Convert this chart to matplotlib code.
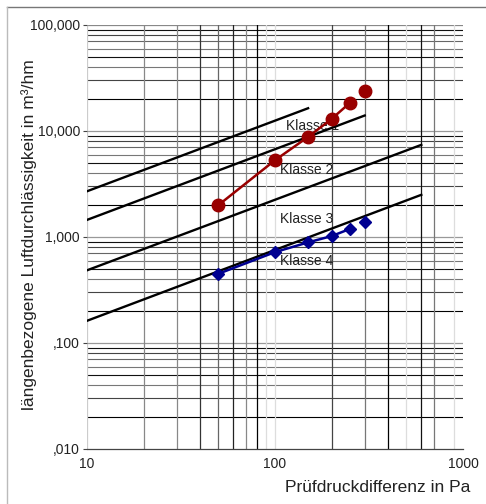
import matplotlib
matplotlib.use("Agg")
from matplotlib import pyplot as plt
from matplotlib.lines import Line2D

plt.rcParams['font.family'] = ['Liberation Sans', 'DejaVu Sans']

# measured points
druck = [50, 100, 150, 200, 250, 300]
rot = [2.0, 5.3, 8.8, 13.0, 18.4, 23.8]
blau = [0.45, 0.72, 0.89, 1.02, 1.19, 1.39]

# class limits (start at 10 Pa, end point)
klassen = ['Klasse 1', 'Klasse 2', 'Klasse 3', 'Klasse 4']
klasse_start_x = [10, 10, 10, 10]
klasse_start_y = [2.7, 1.45, 0.485, 0.162]
klasse_end_x = [150, 300, 600, 600]
klasse_end_y = [16.4, 14.0, 7.4, 2.5]
label_x = [114, 106, 106, 106]
label_y = [11.1, 4.3, 1.48, 0.59]

y_ticks = [0.01, 0.1, 1, 10, 100]
y_ticklabels = [',010', ',100', '1,000', '10,000', '100,000']
x_ticks = [10, 100, 1000]
x_ticklabels = ['10', '100', '1000']

# grid shading, as it looks in the original
vlines = [10, 20, 30, 40, 50, 60, 70, 80, 90, 100, 200, 300, 400, 500, 600, 700, 900]
vcolors = ['#cccccc', '#888888', '#888888', '#333333', '#666666', '#222222', '#888888', '#000000',
           '#dddddd', '#dddddd', '#444444', '#777777', '#000000', '#dddddd', '#111111', '#777777', '#dddddd']
hmult = [2, 3, 4, 5, 6, 7, 8, 9]
hcolors = ['#000000', '#444444', '#777777', '#111111', '#777777', '#666666', '#444444', '#111111']

fig = plt.figure(figsize=(4.86, 5.04), dpi=100)
ax = fig.add_axes([87/486, 1 - 449/504, 376/486, 424/504])
ax.set_xscale('log')
ax.set_yscale('log')
ax.set_xlim(10, 1000)
ax.set_ylim(0.01, 100)

for dec in [0.01, 0.1, 1, 10]:
    for m, c in zip(hmult, hcolors):
        ax.axhline(dec * m, color=c, lw=0.8, zorder=1)
    if dec > 0.01:
        ax.axhline(dec, color='#999999', lw=0.9, zorder=1)
ax.axhline(100, color='#888888', lw=0.9, zorder=1)
for xv, c in zip(vlines, vcolors):
    ax.axvline(xv, color=c, lw=0.9, zorder=1)

for s in ['top', 'right', 'left']:
    ax.spines[s].set_visible(False)
ax.spines['bottom'].set_color('#444444')
ax.spines['bottom'].set_linewidth(0.9)

for i in range(len(klassen)):
    ax.plot([klasse_start_x[i], klasse_end_x[i]], [klasse_start_y[i], klasse_end_y[i]],
            color='black', lw=1.7, zorder=3)
    ax.text(label_x[i], label_y[i], klassen[i], fontsize=10, ha='left', va='center',
            color='#222222', zorder=2)

ax.plot(druck[:5], rot[:5], color='#990000', lw=1.8, zorder=4)
ax.plot(druck, rot, ls='none', marker='o', ms=9, color='#990000', zorder=5)
ax.plot(druck[:5], blau[:5], color='#000090', lw=1.8, zorder=4)
ax.plot(druck, blau, ls='none', marker='D', ms=6.5, color='#000090', zorder=5)

ax.set_yticks(y_ticks)
ax.set_yticklabels(y_ticklabels)
ax.set_xticks(x_ticks)
ax.set_xticklabels(x_ticklabels)
ax.minorticks_off()
ax.tick_params(axis='y', length=3, width=0.8, color='#444444', pad=2, labelsize=10, labelcolor='#222222')
ax.tick_params(axis='x', length=0, pad=6, labelsize=10, labelcolor='#222222')

ax.set_xlabel('Prüfdruckdifferenz in Pa', fontsize=12.5, color='#222222')
ax.xaxis.set_label_coords(383/376, -0.072)
ax.xaxis.label.set_horizontalalignment('right')
ax.set_ylabel('längenbezogene Luftdurchlässigkeit in m³/hm', fontsize=12.5, color='#222222')
ax.yaxis.set_label_coords(-50/376, 0.505)

# outer frame
fig.add_artist(Line2D([7/486, 1], [1 - 7/504, 1 - 7/504], color='#777777', lw=1))
fig.add_artist(Line2D([7/486, 7/486], [0, 1 - 7/504], color='#bbbbbb', lw=1))

plt.savefig('out.png', dpi=100)
